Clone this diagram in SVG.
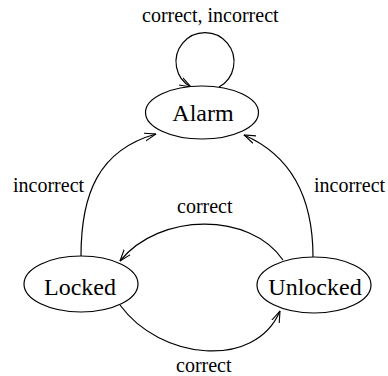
<svg xmlns="http://www.w3.org/2000/svg" width="388" height="376" viewBox="0 0 388 376">
<style>
.node ellipse{fill:#fff;stroke:#000;stroke-width:1.2}
.nt{font-family:"Liberation Serif","Times New Roman",serif;font-size:24px;fill:#000;text-anchor:middle}
.lbl{font-family:"Liberation Serif","Times New Roman",serif;font-size:20px;fill:#000}
.edge{fill:none;stroke:#000;stroke-width:1.2;marker-end:url(#arr)}
</style>
<defs>
<marker id="arr" viewBox="0 0 12 10" refX="11.5" refY="5" markerWidth="12" markerHeight="10" orient="auto" markerUnits="userSpaceOnUse">
<path d="M0,1 L11.5,5 L0,9" fill="none" stroke="#000" stroke-width="1.1"/>
</marker>
</defs>
<rect width="388" height="376" fill="#fff"/>
<g id="connectors">
<path class="edge" d="M219,87 A29,29 0 1 0 191,87"/>
<path class="edge" d="M81,256 C81,195 98,150 156,134"/>
<path class="edge" d="M313,257 C313,195 290,155 244,135"/>
<path class="edge" d="M283,260 C250,212 160,212 120,261"/>
<path class="edge" d="M120,305 C160,360 255,370 280,311"/>
<text class="lbl" x="142" y="22">correct, incorrect</text>
<text class="lbl" x="13" y="192">incorrect</text>
<text class="lbl" x="314" y="192">incorrect</text>
<text class="lbl" x="177" y="213">correct</text>
<text class="lbl" x="176" y="372">correct</text>
</g>
<g id="alarm" class="node">
<ellipse cx="202" cy="112.5" rx="56.5" ry="26.5"/>
<text class="nt" x="203" y="121">Alarm</text>
</g>
<g id="locked" class="node">
<ellipse cx="81" cy="284" rx="57" ry="28"/>
<text class="nt" x="80" y="295">Locked</text>
</g>
<g id="unlocked" class="node">
<ellipse cx="314" cy="285" rx="57" ry="28"/>
<text class="nt" x="315" y="295">Unlocked</text>
</g>
</svg>
